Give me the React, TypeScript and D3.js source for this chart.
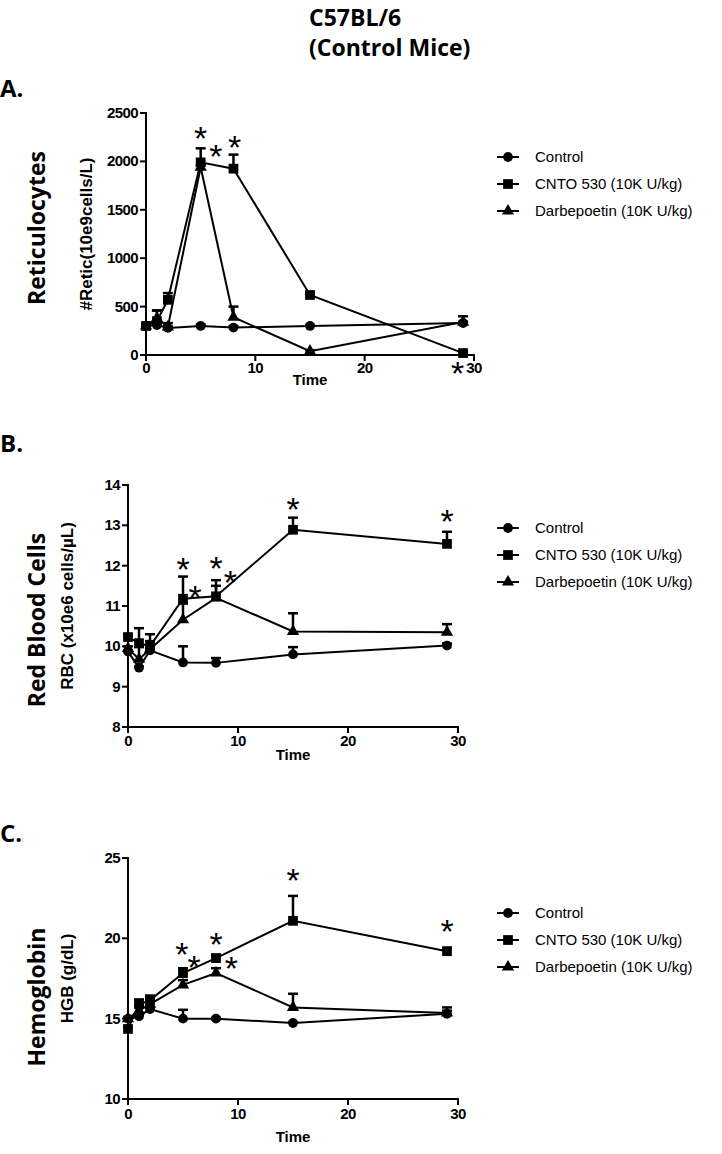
import React from 'react';
import * as d3 from 'd3';

const TIMES = [0, 1, 2, 5, 8, 15, 29];
const SERIES_NAMES = ['Control', 'CNTO 530 (10K U/kg)', 'Darbepoetin (10K U/kg)'];
const MARKERS = ['circle', 'square', 'triangle'];
const X_TICKS = [0, 10, 20, 30];

// Panel A: Reticulocytes
const RETIC_CONTROL = [300, 310, 280, 300, 283, 300, 330];
const RETIC_CONTROL_SEM = [15, 30, 15, 15, 15, 10, 15];
const RETIC_CNTO = [300, 350, 570, 1990, 1925, 620, 20];
const RETIC_CNTO_SEM = [10, 110, 70, 145, 145, 20, 10];
const RETIC_DARBE = [300, 380, 290, 1940, 390, 40, 340];
const RETIC_DARBE_SEM = [10, 80, 40, 20, 110, 10, 60];
const RETIC_TICKS = [0, 500, 1000, 1500, 2000, 2500];
const RETIC_STARS = [[5, 2300], [6.4, 2120], [8.1, 2210], [28.5, -125]];

// Panel B: RBC
const RBC_CONTROL = [9.87, 9.47, 9.9, 9.6, 9.59, 9.8, 10.02];
const RBC_CONTROL_SEM = [0.03, 0.03, 0.05, 0.4, 0.12, 0.18, 0.05];
const RBC_CNTO = [10.23, 10.08, 10.0, 11.18, 11.24, 12.89, 12.54];
const RBC_CNTO_SEM = [0.05, 0.37, 0.3, 0.55, 0.4, 0.3, 0.3];
const RBC_DARBE = [9.95, 9.68, 9.93, 10.66, 11.2, 10.37, 10.35];
const RBC_DARBE_SEM = [0.05, 0.3, 0.2, 0.4, 0.3, 0.45, 0.2];
const RBC_TICKS = [8, 9, 10, 11, 12, 13, 14];
const RBC_STARS = [[5, 12.07], [6.1, 11.37], [8, 12.1], [9.3, 11.75], [15, 13.55], [29, 13.25]];

// Panel C: Hemoglobin
const HGB_CONTROL = [15.0, 15.15, 15.6, 15.0, 15.0, 14.73, 15.3];
const HGB_CONTROL_SEM = [0.05, 0.1, 0.1, 0.55, 0.05, 0.05, 0.2];
const HGB_CNTO = [14.36, 15.9, 16.14, 17.84, 18.77, 21.09, 19.2];
const HGB_CNTO_SEM = [0.1, 0.3, 0.3, 0.3, 0.2, 1.55, 0.2];
const HGB_DARBE = [15.0, 15.5, 15.9, 17.1, 17.84, 15.7, 15.35];
const HGB_DARBE_SEM = [0.1, 0.3, 0.3, 0.3, 0.3, 0.85, 0.35];
const HGB_TICKS = [10, 15, 20, 25];
const HGB_STARS = [[4.9, 19.4], [6.0, 18.6], [8, 20.0], [9.4, 18.5], [15, 24.0], [29, 20.8]];

const TITLE_FONT = '"Open Sans", "DejaVu Sans", sans-serif';
const AXIS_FONT = '"Liberation Sans", Arial, sans-serif';

type PanelCfg = {
  letter: string;
  letterY: number;
  title: string;
  titleCy: number;
  yTitle: string;
  yTitleX: number;
  x0: number;
  x1: number;
  yTop: number;
  yBottom: number;
  yDomain: [number, number];
  yTicks: number[];
  series: number[][];
  sems: number[][];
  stars: number[][];
  legendY: number;
  xLabelDy: number;
  timeDy: number;
};

const PANELS: PanelCfg[] = [
  {
    letter: 'A.', letterY: 97, title: 'Reticulocytes', titleCy: 228,
    yTitle: '#Retic(10e9cells/L)', yTitleX: 92,
    x0: 146, x1: 474, yTop: 113, yBottom: 355, yDomain: [0, 2500], yTicks: RETIC_TICKS,
    series: [RETIC_CONTROL, RETIC_CNTO, RETIC_DARBE],
    sems: [RETIC_CONTROL_SEM, RETIC_CNTO_SEM, RETIC_DARBE_SEM],
    stars: RETIC_STARS, legendY: 157, xLabelDy: 13, timeDy: 25,
  },
  {
    letter: 'B.', letterY: 452, title: 'Red Blood Cells', titleCy: 620,
    yTitle: 'RBC (x10e6 cells/\u00b5L)', yTitleX: 73,
    x0: 128, x1: 458, yTop: 485, yBottom: 727, yDomain: [8, 14], yTicks: RBC_TICKS,
    series: [RBC_CONTROL, RBC_CNTO, RBC_DARBE],
    sems: [RBC_CONTROL_SEM, RBC_CNTO_SEM, RBC_DARBE_SEM],
    stars: RBC_STARS, legendY: 528, xLabelDy: 14, timeDy: 28,
  },
  {
    letter: 'C.', letterY: 842, title: 'Hemoglobin', titleCy: 997,
    yTitle: 'HGB (g/dL)', yTitleX: 73,
    x0: 128, x1: 458, yTop: 858, yBottom: 1099, yDomain: [10, 25], yTicks: HGB_TICKS,
    series: [HGB_CONTROL, HGB_CNTO, HGB_DARBE],
    sems: [HGB_CONTROL_SEM, HGB_CNTO_SEM, HGB_DARBE_SEM],
    stars: HGB_STARS, legendY: 913, xLabelDy: 15, timeDy: 38,
  },
];

const symbolFor = (m: string) =>
  m === 'circle'
    ? d3.symbol().type(d3.symbolCircle).size(75)()
    : m === 'square'
    ? d3.symbol().type(d3.symbolSquare).size(95)()
    : d3.symbol().type(d3.symbolTriangle).size(65)();

function Panel({ cfg }: { cfg: PanelCfg }) {
  const x = d3.scaleLinear().domain([0, 30]).range([cfg.x0, cfg.x1]);
  const y = d3.scaleLinear().domain(cfg.yDomain).range([cfg.yBottom, cfg.yTop]);
  const line = d3.line<number>().x((_, i) => x(TIMES[i])).y((v) => y(v));
  const legendX = 508;
  return (
    <g>
      <text x={0} y={cfg.letterY} fontFamily={TITLE_FONT} fontWeight="bold" fontSize={24}>
        {cfg.letter}
      </text>
      <text
        transform={`translate(45,${cfg.titleCy}) rotate(-90)`}
        textAnchor="middle" fontFamily={TITLE_FONT} fontWeight="bold" fontSize={23}
      >
        {cfg.title}
      </text>
      <text
        transform={`translate(${cfg.yTitleX},${(cfg.yTop + cfg.yBottom) / 2}) rotate(-90)`}
        textAnchor="middle" fontFamily={AXIS_FONT} fontWeight="bold" fontSize={17}
      >
        {cfg.yTitle}
      </text>
      {/* axes */}
      <line x1={cfg.x0} x2={cfg.x0} y1={cfg.yTop - 1} y2={cfg.yBottom + 1} stroke="#000" strokeWidth={2} />
      <line x1={cfg.x0 - 1} x2={cfg.x1 + 1} y1={cfg.yBottom} y2={cfg.yBottom} stroke="#000" strokeWidth={2} />
      {cfg.yTicks.map((t) => (
        <g key={'y' + t}>
          <line x1={cfg.x0 - 6} x2={cfg.x0} y1={y(t)} y2={y(t)} stroke="#000" strokeWidth={2} />
          <text x={cfg.x0 - 8} y={y(t) + 5} textAnchor="end" fontFamily={AXIS_FONT}
            fontWeight="bold" fontSize={15} letterSpacing={-0.6}>
            {t}
          </text>
        </g>
      ))}
      {X_TICKS.map((t) => (
        <g key={'x' + t}>
          <line x1={x(t)} x2={x(t)} y1={cfg.yBottom} y2={cfg.yBottom + 6} stroke="#000" strokeWidth={2} />
          <text x={x(t)} y={cfg.yBottom + cfg.xLabelDy + 5} textAnchor="middle" fontFamily={AXIS_FONT}
            fontWeight="bold" fontSize={15} letterSpacing={-0.6}>
            {t}
          </text>
        </g>
      ))}
      <text x={(cfg.x0 + cfg.x1) / 2} y={cfg.yBottom + cfg.timeDy + 5} textAnchor="middle"
        fontFamily={AXIS_FONT} fontWeight="bold" fontSize={15}>
        Time
      </text>
      {/* lines */}
      {cfg.series.map((s, k) => (
        <path key={'l' + k} d={line(s) || ''} fill="none" stroke="#000" strokeWidth={2} />
      ))}
      {/* error bars */}
      {cfg.series.map((s, k) =>
        s.map((v, i) => {
          const top = y(v + cfg.sems[k][i]);
          return (
            <g key={'e' + k + '-' + i}>
              <line x1={x(TIMES[i])} x2={x(TIMES[i])} y1={y(v)} y2={top} stroke="#000" strokeWidth={2.5} />
              <line x1={x(TIMES[i]) - 5} x2={x(TIMES[i]) + 5} y1={top} y2={top} stroke="#000" strokeWidth={2.5} />
            </g>
          );
        })
      )}
      {/* markers */}
      {cfg.series.map((s, k) =>
        s.map((v, i) => (
          <path key={'m' + k + '-' + i} d={symbolFor(MARKERS[k]) || ''}
            transform={`translate(${x(TIMES[i])},${y(v)})`} fill="#000" />
        ))
      )}
      {/* significance stars */}
      {cfg.stars.map(([t, v], i) => (
        <text key={'s' + i} x={x(t)} y={y(v) + 18} textAnchor="middle" fontFamily={AXIS_FONT}
          fontSize={34}>
          *
        </text>
      ))}
      {/* legend */}
      {SERIES_NAMES.map((n, k) => {
        const ly = cfg.legendY + k * 27;
        return (
          <g key={'lg' + k}>
            <line x1={legendX - 11} x2={legendX + 11} y1={ly} y2={ly} stroke="#000" strokeWidth={2} />
            <path d={symbolFor(MARKERS[k]) || ''} transform={`translate(${legendX},${ly})`} fill="#000" />
            <text x={535} y={ly + 5} fontFamily={AXIS_FONT} fontSize={15}>
              {n}
            </text>
          </g>
        );
      })}
    </g>
  );
}

export default function App() {
  return (
    <svg width={722} height={1154} style={{ position: 'absolute', left: 0, top: 0, background: '#fff' }}>
      <rect width={722} height={1154} fill="#fff" />
      <text x={309} y={26} fontFamily={TITLE_FONT} fontWeight="bold" fontSize={23}>
        C57BL/6
      </text>
      <text x={309} y={56} fontFamily={TITLE_FONT} fontWeight="bold" fontSize={23}>
        (Control Mice)
      </text>
      {PANELS.map((p, i) => (
        <Panel key={i} cfg={p} />
      ))}
    </svg>
  );
}
